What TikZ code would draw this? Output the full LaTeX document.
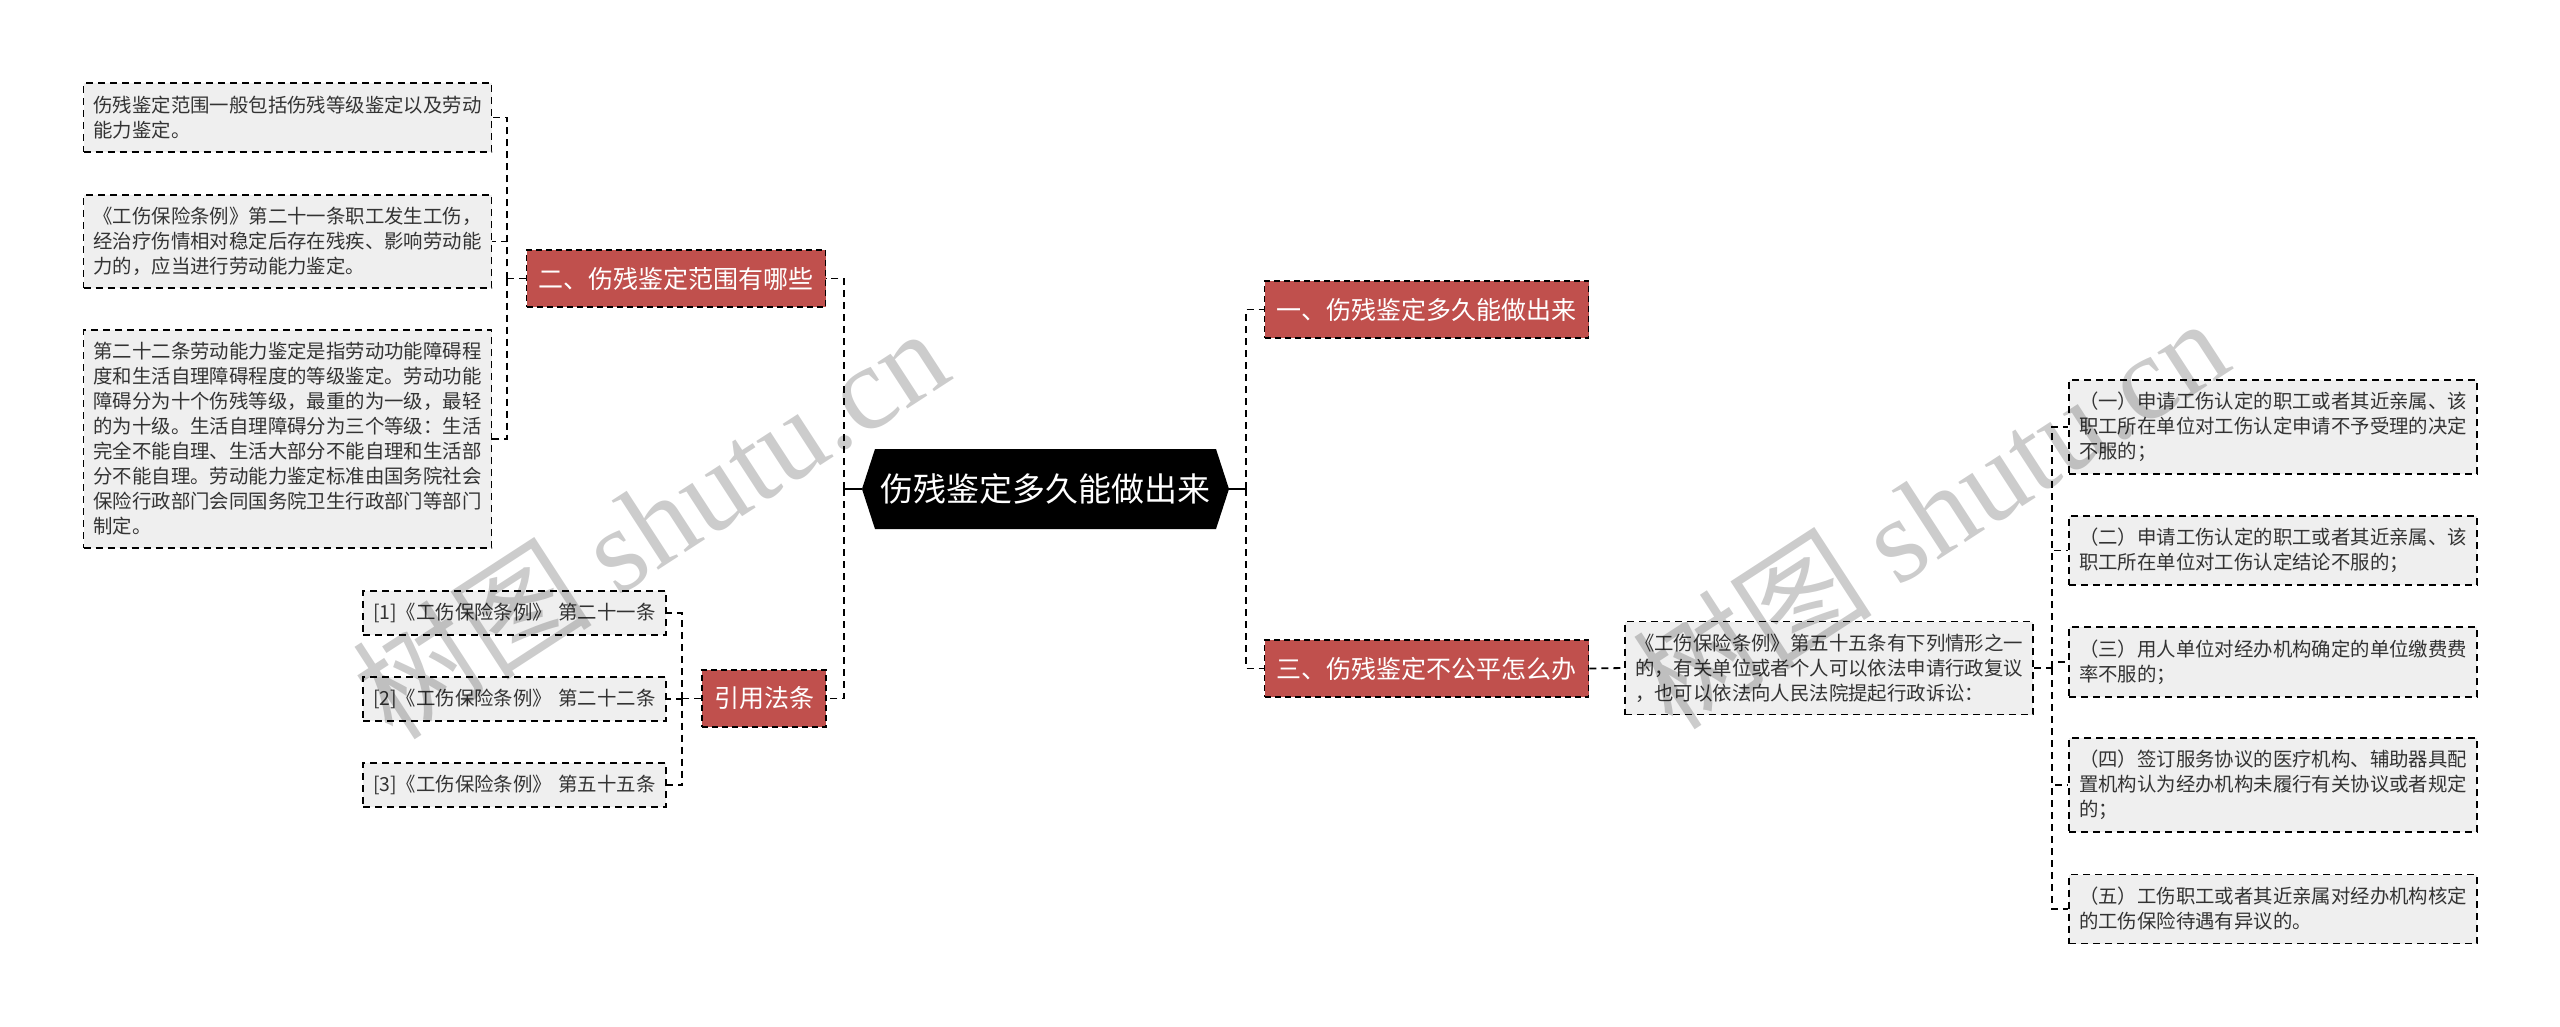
\documentclass[tikz,border=0pt]{standalone}
\usepackage{fontspec}
\setmainfont{Noto Sans CJK SC}
\newfontfamily\markfont{Liberation Serif}
\usepackage{xcolor}
\usepackage{tikz}
\usetikzlibrary{shapes.symbols, positioning}
\definecolor{topic}{RGB}{192,80,77}
\definecolor{leaf}{RGB}{239,239,239}
\definecolor{leaftext}{RGB}{51,51,51}

\begin{document}
\begin{tikzpicture}[x=1pt, y=-1pt,
    link/.style={draw=black, line width=1.8pt, dash pattern=on 7pt off 5pt},
    topicbox/.style={draw=black, line width=1.5pt, dash pattern=on 6pt off 4pt, fill=topic, text=white,
        font=\fontsize{25pt}{30pt}\selectfont, inner xsep=12pt, inner ysep=0pt, minimum height=57pt},
    leafbox/.style={draw=black, line width=1.5pt, dash pattern=on 7pt off 5pt, fill=leaf, text=leaftext,
        font=\fontsize{19.4pt}{25pt}\selectfont, text width=388pt, align=left, inner xsep=10pt, inner ysep=0pt},
    refbox/.style={leafbox, text width=283pt, minimum height=44pt},
    watermark/.style={text=black, text opacity=0.2, font=\fontsize{120pt}{120pt}\selectfont, rotate=33}]
    \path[use as bounding box, fill=white] (0,0) rectangle (2560,1027);

    \node[signal, signal to=west and east, signal pointer angle=144, fill=black, text=white,
        font=\fontsize{33pt}{40pt}\selectfont, minimum width=367pt, minimum height=80pt, inner sep=0pt]
        (c) at (1045.5,489) {伤残鉴定多久能做出来};

    \node[topicbox] (n2) at (676,278.5) {二、伤残鉴定范围有哪些};
    \node[topicbox] (n4) at (764,698.5) {引用法条};
    \node[topicbox] (n1) at (1426.5,309.5) {一、伤残鉴定多久能做出来};
    \node[topicbox] (n3) at (1426.5,668.5) {三、伤残鉴定不公平怎么办};

    \node[leafbox, minimum height=69pt] (l1) at (287.5,117.5) {
        伤残鉴定范围一般包括伤残等级鉴定以及劳动\\
        能力鉴定。};
    \node[leafbox, minimum height=93pt] (l2) at (287.5,241.5) {
        《工伤保险条例》第二十一条职工发生工伤，\\
        经治疗伤情相对稳定后存在残疾、影响劳动能\\
        力的，应当进行劳动能力鉴定。};
    \node[leafbox, minimum height=218pt] (l3) at (287.5,439) {
        第二十二条劳动能力鉴定是指劳动功能障碍程\\
        度和生活自理障碍程度的等级鉴定。劳动功能\\
        障碍分为十个伤残等级，最重的为一级，最轻\\
        的为十级。生活自理障碍分为三个等级：生活\\
        完全不能自理、生活大部分不能自理和生活部\\
        分不能自理。劳动能力鉴定标准由国务院社会\\
        保险行政部门会同国务院卫生行政部门等部门\\
        制定。};

    \node[refbox] (r1) at (514.5,613) {[1]《工伤保险条例》 第二十一条};
    \node[refbox] (r2) at (514.5,699) {[2]《工伤保险条例》 第二十二条};
    \node[refbox] (r3) at (514.5,785) {[3]《工伤保险条例》 第五十五条};

    \node[leafbox, minimum height=93pt] (p) at (1829,668) {
        《工伤保险条例》第五十五条有下列情形之一\\
        的，有关单位或者个人可以依法申请行政复议\\
        ，也可以依法向人民法院提起行政诉讼：};

    \node[leafbox, minimum height=94pt] (s1) at (2273,427) {
        （一）申请工伤认定的职工或者其近亲属、该\\
        职工所在单位对工伤认定申请不予受理的决定\\
        不服的；};
    \node[leafbox, minimum height=69pt] (s2) at (2273,550.5) {
        （二）申请工伤认定的职工或者其近亲属、该\\
        职工所在单位对工伤认定结论不服的；};
    \node[leafbox, minimum height=70pt] (s3) at (2273,662) {
        （三）用人单位对经办机构确定的单位缴费费\\
        率不服的；};
    \node[leafbox, minimum height=94pt] (s4) at (2273,785) {
        （四）签订服务协议的医疗机构、辅助器具配\\
        置机构认为经办机构未履行有关协议或者规定\\
        的；};
    \node[leafbox, minimum height=69pt] (s5) at (2273,909) {
        （五）工伤职工或者其近亲属对经办机构核定\\
        的工伤保险待遇有异议的。};

    \draw[line width=1.8pt] (c.west) -- ++(-18,0) coordinate (jl);
    \draw[link] (jl) |- (n2.east);
    \draw[link] (jl) |- (n4.east);
    \draw[link] (n2.west) -- ++(-19,0) coordinate (jt);
    \foreach \n in {l1,l2,l3} \draw[link] (jt) |- (\n.east);
    \draw[link] (n4.west) -- ++(-19,0) coordinate (jr);
    \foreach \n in {r1,r2,r3} \draw[link] (jr) |- (\n.east);

    \draw[line width=1.8pt] (c.east) -- ++(17,0) coordinate (jc);
    \draw[link] (jc) |- (n1.west);
    \draw[link] (jc) |- (n3.west);
    \draw[link] (n3.east) -- (p.west);
    \draw[link] (p.east) -- ++(18,0) coordinate (jp);
    \foreach \n in {s1,s2,s3,s4,s5} \draw[link] (jp) |- (\n.west);

    \node[watermark] (wm1) at (650,522) {树图 {\markfont shutu.cn}};
    \node[watermark] (wm2) at (1930,512) {树图 {\markfont shutu.cn}};
\end{tikzpicture}
\end{document}
